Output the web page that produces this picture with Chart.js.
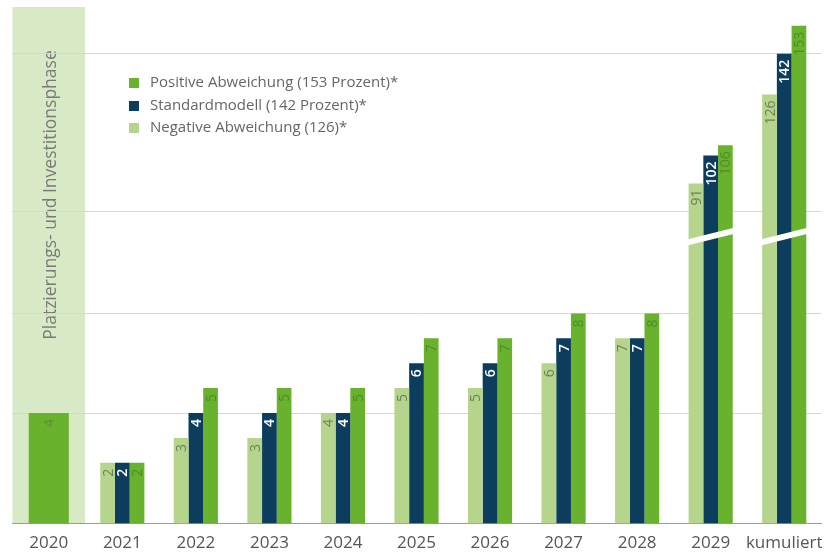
<!DOCTYPE html>
<html lang="de">
<head>
<meta charset="utf-8">
<script src="https://cdn.jsdelivr.net/npm/chart.js@4.4.1/dist/chart.umd.min.js"></script>
<style>
  body { margin: 0; background: #fff; }
  #wrap { position: relative; width: 835px; height: 552px; }
  #legend { position: absolute; left: 129px; top: 70px; font: 15px "Open Sans", sans-serif; color: #666; }
  #legend div { height: 22.5px; line-height: 22.5px; white-space: nowrap; }
  #legend span { display: inline-block; width: 10px; height: 10px; margin-right: 11px; vertical-align: -1px; }
</style>
</head>
<body>
<div id="wrap">
  <canvas id="chart"></canvas>
  <div id="legend"></div>
</div>
<script>
const categories = ['2020', '2021', '2022', '2023', '2024', '2025', '2026', '2027', '2028', '2029', 'kumuliert'];
const phaseValues = [4, null, null, null, null, null, null, null, null, null, null];
const negativeValues = [null, 2, 3, 3, 4, 5, 5, 6, 7, 91, 126];
const standardValues = [null, 2, 4, 4, 4, 6, 6, 7, 7, 102, 142];
const positiveValues = [null, 2, 5, 5, 5, 7, 7, 8, 8, 106, 153];
const seriesNames = ['Negative Abweichung (126)*', 'Standardmodell (142 Prozent)*', 'Positive Abweichung (153 Prozent)*'];
const phaseLabel = 'Platzierungs- und Investitionsphase';
const gridValues = [4, 8, 80, 142];

const colors = { light: '#b5d48c', navy: '#0c3d5c', green: '#69b22d', band: '#d8e9c5' };

// broken value axis: 0..11 in the lower part, 70.. in the upper part
const LOW_OFFSET = 11, LOW_STEP = 24.9, LOW_TOP = 11.08;
const HIGH_OFFSET = 108.8, HIGH_STEP = 2.543, HIGH_START = 70.07;

class BrokenScale extends Chart.LinearScale {
  getPixelForValue(value) {
    if (value === null || value === undefined || isNaN(value)) return NaN;
    const b = this.bottom;
    if (value <= 0) return b;
    if (value <= LOW_TOP) return b - LOW_OFFSET - LOW_STEP * value;
    if (value < HIGH_START) return b - LOW_OFFSET - LOW_STEP * LOW_TOP;
    return b - HIGH_OFFSET - HIGH_STEP * value;
  }
  getValueForPixel(pixel) {
    const h = this.bottom - pixel;
    const breakH = LOW_OFFSET + LOW_STEP * LOW_TOP;
    if (h <= breakH) return Math.max(0, (h - LOW_OFFSET) / LOW_STEP);
    return (h - HIGH_OFFSET) / HIGH_STEP;
  }
}
BrokenScale.id = 'broken';
BrokenScale.defaults = Chart.LinearScale.defaults;
Chart.register(BrokenScale);

const labelColors = ['#5f8a3c', '#6e7f5c', '#ffffff', '#4f8a2a'];

const phaseBand = {
  id: 'phaseBand',
  beforeDraw(chart) {
    const { ctx, chartArea, scales } = chart;
    const x = scales.x.getPixelForValue(0);
    const half = (chartArea.right - chartArea.left) / categories.length / 2;
    ctx.save();
    ctx.fillStyle = colors.band;
    ctx.fillRect(x - half + 0.5, chartArea.top, half * 2 - 1, chartArea.bottom - chartArea.top);
    ctx.translate(x + 2, 195);
    ctx.rotate(-Math.PI / 2);
    ctx.fillStyle = '#7a7a7a';
    ctx.font = '17.5px "Open Sans"';
    ctx.textAlign = 'center';
    ctx.textBaseline = 'middle';
    ctx.fillText(phaseLabel, 0, 0);
    ctx.restore();
  }
};

const barLabels = {
  id: 'barLabels',
  afterDatasetsDraw(chart) {
    const { ctx, scales } = chart;
    ctx.save();
    chart.data.datasets.forEach((ds, di) => {
      const meta = chart.getDatasetMeta(di);
      meta.data.forEach((bar, i) => {
        const v = ds.data[i];
        if (v === null) return;
        ctx.save();
        ctx.translate(bar.x + 1, bar.y + 6);
        ctx.rotate(-Math.PI / 2);
        ctx.fillStyle = labelColors[di];
        ctx.font = (di === 2 ? '600 ' : '') + '14px "Open Sans"';
        ctx.textAlign = 'right';
        ctx.textBaseline = 'middle';
        ctx.fillText(String(v), 0, 0);
        ctx.restore();
      });
    });
    // break marks where values run into the upper part
    const yBreak = scales.y.getPixelForValue((LOW_TOP + HIGH_START) / 2);
    categories.forEach((c, i) => {
      const vals = [negativeValues[i], standardValues[i], positiveValues[i]];
      if (!vals.some(v => v !== null && v > LOW_TOP)) return;
      let x0 = Infinity, x1 = -Infinity;
      [1, 2, 3].forEach(di => {
        const bar = chart.getDatasetMeta(di).data[i];
        x0 = Math.min(x0, bar.x - bar.width / 2);
        x1 = Math.max(x1, bar.x + bar.width / 2);
      });
      ctx.beginPath();
      ctx.moveTo(x0 - 10, yBreak + 8);
      ctx.lineTo(x1 + 10, yBreak - 8);
      ctx.strokeStyle = '#ffffff';
      ctx.lineWidth = 6;
      ctx.stroke();
    });
    ctx.restore();
  }
};

new Chart(document.getElementById('chart'), {
  type: 'bar',
  data: {
    labels: categories,
    datasets: [
      { label: phaseLabel, data: phaseValues, backgroundColor: colors.green, grouped: false, categoryPercentage: 0.545, barPercentage: 1 },
      { label: seriesNames[0], data: negativeValues, backgroundColor: colors.light },
      { label: seriesNames[1], data: standardValues, backgroundColor: colors.navy },
      { label: seriesNames[2], data: positiveValues, backgroundColor: colors.green }
    ]
  },
  options: {
    responsive: true,
    maintainAspectRatio: false,
    animation: false,
    skipNull: true,
    categoryPercentage: 0.6,
    barPercentage: 1,
    layout: { padding: { top: 7, left: 12, right: 14, bottom: -10 } },
    plugins: { legend: { display: false }, tooltip: { enabled: false } },
    scales: {
      x: {
        grid: { display: false, drawTicks: false },
        border: { display: true, color: '#9a9a9a', width: 1 },
        ticks: { color: '#555', font: { family: 'Open Sans', size: 17, lineHeight: 1.2 }, padding: 9, maxRotation: 0, autoSkip: false }
      },
      y: {
        type: 'broken',
        min: 0,
        max: 160,
        afterBuildTicks(scale) { scale.ticks = gridValues.map(v => ({ value: v })); },
        ticks: { display: false },
        grid: { color: '#d6d6d6', lineWidth: 1, drawTicks: false },
        border: { display: false }
      }
    }
  },
  plugins: [phaseBand, barLabels]
});

// legend, top entry first
const legendEl = document.getElementById('legend');
const legendColors = [colors.light, colors.navy, colors.green];
for (let k = seriesNames.length - 1; k >= 0; k--) {
  const row = document.createElement('div');
  const sw = document.createElement('span');
  sw.style.background = legendColors[k];
  row.appendChild(sw);
  row.appendChild(document.createTextNode(seriesNames[k]));
  legendEl.appendChild(row);
}
</script>
</body>
</html>
